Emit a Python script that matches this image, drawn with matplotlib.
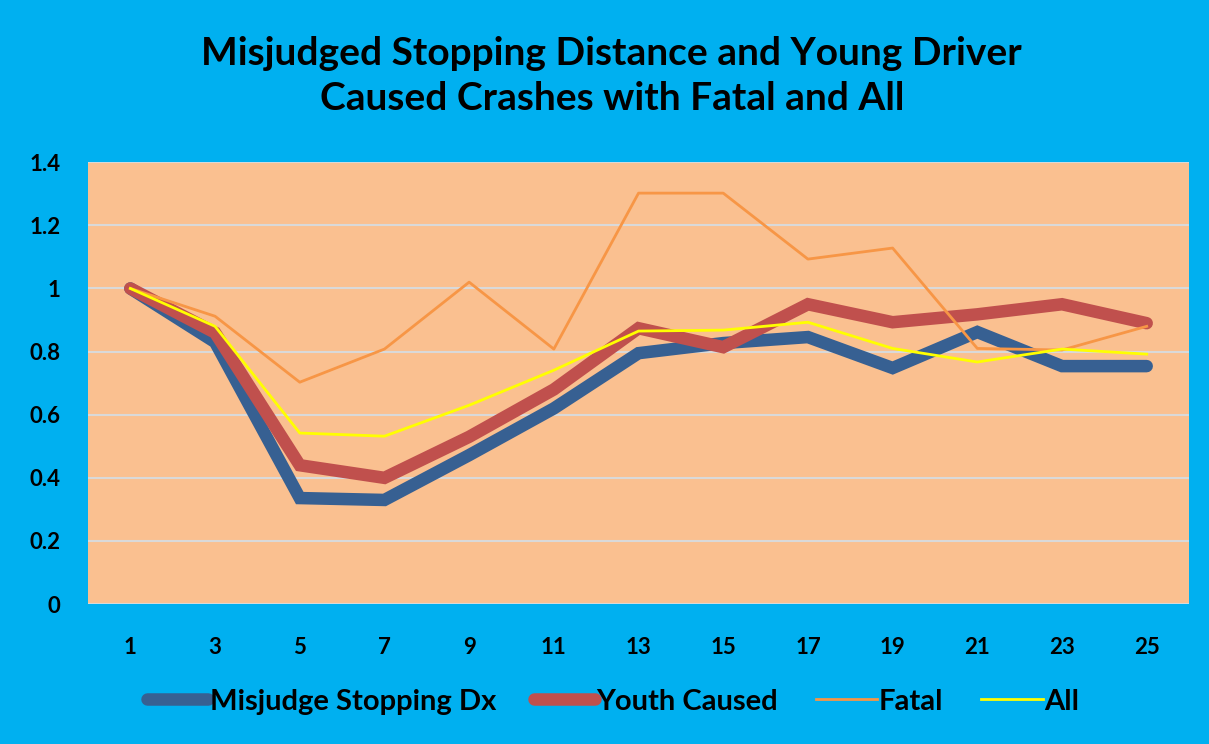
import matplotlib.pyplot as plt
from matplotlib.ticker import FuncFormatter

# categories and series
periods = ["1", "3", "5", "7", "9", "11", "13", "15", "17", "19", "21", "23", "25"]
misjudge = [1.0, 0.83, 0.336, 0.33, 0.472, 0.62, 0.795, 0.827, 0.846, 0.748, 0.862, 0.754, 0.754]
youth = [1.0, 0.86, 0.44, 0.40, 0.53, 0.68, 0.874, 0.814, 0.95, 0.893, 0.918, 0.95, 0.89]
fatal = [1.0, 0.912, 0.703, 0.808, 1.02, 0.808, 1.302, 1.302, 1.093, 1.128, 0.81, 0.805, 0.88]
all_crashes = [1.0, 0.88, 0.542, 0.532, 0.63, 0.741, 0.865, 0.868, 0.893, 0.81, 0.767, 0.808, 0.792]

plt.rcParams['font.family'] = ['Lato', 'DejaVu Sans']

fig = plt.figure(figsize=(12.09, 7.44), dpi=100)
fig.patch.set_facecolor("#00B0F0")
ax = fig.add_axes([0.0728, 0.188, 0.9107, 0.594])
ax.set_facecolor("#FAC090")

x = list(range(len(periods)))
ax.plot(x, misjudge, color="#376092", linewidth=9, solid_capstyle="round",
        solid_joinstyle="miter", label="Misjudge Stopping Dx", zorder=3)
ax.plot(x, youth, color="#C0504D", linewidth=9, solid_capstyle="round",
        solid_joinstyle="miter", label="Youth Caused", zorder=4)
ax.plot(x, fatal, color="#F79646", linewidth=2, label="Fatal", zorder=5)
ax.plot(x, all_crashes, color="#FFFF00", linewidth=2, label="All", zorder=6)

ax.set_xlim(-0.5, len(periods) - 0.5)
ax.set_ylim(0, 1.4)
ax.set_yticks([0, 0.2, 0.4, 0.6, 0.8, 1.0, 1.2, 1.4])
ax.yaxis.set_major_formatter(FuncFormatter(lambda v, p: "%g" % v))
ax.set_xticks(x)
ax.set_xticklabels(periods)
ax.grid(axis="y", color="#D9D9D9", linewidth=1.5, zorder=0)
ax.set_axisbelow(True)
for s in ax.spines.values():
    s.set_visible(False)
ax.tick_params(length=0, labelsize=16)
ax.tick_params(axis="x", pad=24)
ax.tick_params(axis="y", pad=20)
for lbl in ax.get_xticklabels() + ax.get_yticklabels():
    lbl.set_fontweight("bold")

fig.text(0.506, 0.898, "Misjudged Stopping Distance and Young Driver\nCaused Crashes with Fatal and All",
         ha="center", va="center", fontsize=28, fontweight="bold", linespacing=1.35)

fig.legend(loc="center", bbox_to_anchor=(0.507, 0.057), ncol=4, frameon=False,
           prop={"size": 21, "weight": "bold"}, handlelength=2.1, handletextpad=0.05,
           columnspacing=1.3)

fig.savefig("out.png", dpi=100, facecolor=fig.get_facecolor())
